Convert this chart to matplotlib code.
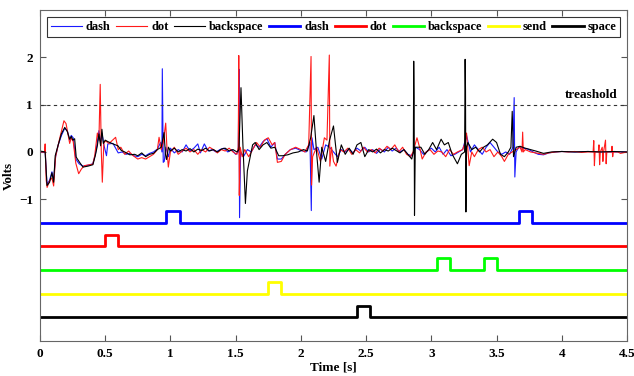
import numpy as np
import matplotlib
matplotlib.use('Agg')
import matplotlib.pyplot as plt

plt.rcParams['font.family'] = ['Liberation Serif', 'DejaVu Serif']
plt.rcParams['font.weight'] = 'bold'

# thin raw signals (time in s, volts)
dash_t = [0, 0.04, 0.054, 0.074, 0.092, 0.105, 0.12, 0.14, 0.165, 0.19, 0.21, 0.228, 0.24, 0.255, 0.275,
          0.3, 0.33, 0.37, 0.405, 0.425, 0.44, 0.452, 0.465, 0.475, 0.49, 0.51, 0.52, 0.56, 0.6, 0.63,
          0.66, 0.69, 0.72, 0.75, 0.78, 0.81, 0.84, 0.87, 0.9, 0.925, 0.935, 0.938, 0.945, 0.953, 0.965,
          0.985, 1.0, 1.03, 1.06, 1.09, 1.12, 1.15, 1.18, 1.21, 1.23, 1.26, 1.29, 1.32, 1.35, 1.38, 1.41,
          1.44, 1.47, 1.5, 1.52, 1.526, 1.53, 1.538, 1.56, 1.59, 1.62, 1.65, 1.68, 1.71, 1.74, 1.77, 1.8,
          1.82, 1.85, 1.88, 1.92, 1.96, 2.0, 2.04, 2.07, 2.08, 2.085, 2.1, 2.13, 2.16, 2.19, 2.22, 2.25,
          2.28, 2.31, 2.34, 2.37, 2.4, 2.43, 2.46, 2.49, 2.52, 2.55, 2.58, 2.61, 2.64, 2.67, 2.7, 2.73,
          2.76, 2.79, 2.82, 2.85, 2.88, 2.91, 2.94, 2.97, 3.0, 3.03, 3.06, 3.09, 3.12, 3.15, 3.18, 3.21,
          3.24, 3.27, 3.3, 3.33, 3.36, 3.39, 3.42, 3.45, 3.48, 3.51, 3.54, 3.57, 3.6, 3.625, 3.635, 3.64,
          3.65, 3.67, 3.7, 3.74, 3.78, 3.82, 3.86, 3.9, 3.95, 4.0, 4.1, 4.2, 4.3, 4.4, 4.5]
dash_v = [0.0, 0.0, -0.68, -0.6, -0.42, -0.6, -0.1, 0.15, 0.35, 0.5, 0.45, 0.25, 0.35, 0.3, -0.15,
          -0.25, -0.3, -0.28, -0.25, -0.05, 0.2, 0.45, 0.2, 0.4, 0.15, -0.08, 0.17, 0.18, -0.02, 0.0,
          -0.05, -0.03, -0.08, -0.1, -0.05, -0.08, -0.03, 0.0, 0.06, 0.2, 0.0, 1.76, -0.22, -0.2, 0.1,
          -0.1, 0.08, -0.02, 0.05, 0.0, 0.15, 0.02, 0.08, 0.17, -0.02, 0.17, 0.02, 0.05, 0.0, 0.05, 0.08,
          0.0, 0.05, -0.05, 0.0, 1.75, -1.39, 0.0, -0.1, 0.05, 0.0, 0.15, 0.1, 0.22, 0.28, 0.1, 0.2,
          -0.15, -0.15, -0.05, 0.05, 0.08, 0.03, 0.0, 0.2, -1.24, 0.3, 0.05, 0.1, -0.15, 0.15, 0.1, 0.0,
          -0.1, 0.05, 0.0, 0.06, -0.02, 0.08, 0.02, 0.1, 0.0, 0.05, -0.03, 0.06, 0.0, 0.1, 0.02, 0.08,
          0.0, 0.05, -0.05, -0.08, 0.1, 0.05, -0.05, 0.02, 0.08, 0.0, 0.1, -0.05, 0.05, -0.08, -0.05, 0.0,
          0.05, 0.35, 0.0, 0.15, 0.05, -0.05, 0.1, 0.2, 0.1, 0.0, -0.05, 0.0, -0.05, 0.1, 1.15, -0.53,
          0.0, 0.1, 0.08, 0.06, 0.0, -0.05, -0.06, -0.02, 0.0, 0.01, 0.0, 0.01, 0.0, 0.0, 0.0]

dot_t = [0, 0.035, 0.04, 0.048, 0.055, 0.075, 0.092, 0.105, 0.12, 0.15, 0.184, 0.2, 0.228, 0.24, 0.255,
         0.275, 0.297, 0.318, 0.34, 0.38, 0.405, 0.42, 0.44, 0.452, 0.462, 0.47, 0.478, 0.49, 0.505, 0.53,
         0.58, 0.6, 0.62, 0.65, 0.68, 0.71, 0.75, 0.78, 0.81, 0.84, 0.87, 0.9, 0.913, 0.93, 0.945, 0.964,
         0.975, 0.984, 1.0, 1.03, 1.06, 1.09, 1.12, 1.15, 1.18, 1.21, 1.24, 1.27, 1.3, 1.33, 1.36, 1.39,
         1.42, 1.45, 1.48, 1.51, 1.52, 1.524, 1.528, 1.535, 1.55, 1.57, 1.6, 1.63, 1.66, 1.69, 1.72, 1.75,
         1.78, 1.8, 1.82, 1.85, 1.88, 1.92, 1.96, 2.0, 2.03, 2.06, 2.078, 2.082, 2.09, 2.12, 2.15, 2.18,
         2.2, 2.218, 2.222, 2.235, 2.25, 2.27, 2.3, 2.33, 2.36, 2.39, 2.42, 2.45, 2.48, 2.51, 2.54, 2.57,
         2.6, 2.63, 2.66, 2.69, 2.72, 2.75, 2.78, 2.81, 2.84, 2.86, 2.89, 2.91, 2.93, 2.96, 2.99, 3.02,
         3.05, 3.08, 3.11, 3.14, 3.17, 3.2, 3.24, 3.26, 3.27, 3.29, 3.31, 3.33, 3.36, 3.39, 3.42, 3.45,
         3.48, 3.51, 3.54, 3.56, 3.59, 3.62, 3.65, 3.68, 3.695, 3.7, 3.705, 3.72, 3.76, 3.8, 3.86, 3.9,
         3.95, 4.0, 4.05, 4.1, 4.15, 4.2, 4.24, 4.245, 4.25, 4.255, 4.28, 4.285, 4.29, 4.295, 4.31, 4.315,
         4.32, 4.335, 4.34, 4.345, 4.38, 4.385, 4.39, 4.395, 4.43, 4.45, 4.5]
dot_v = [0.0, 0.0, 0.17, -0.6, -0.75, -0.6, -0.55, -0.72, -0.1, 0.27, 0.66, 0.6, 0.18, 0.3, 0.22,
         -0.24, -0.46, -0.36, -0.29, -0.27, -0.26, -0.08, 0.4, 0.25, 1.43, 0.04, -0.64, 0.2, 0.23, 0.18,
         0.31, 0.05, 0.1, -0.05, 0.02, -0.07, -0.15, -0.12, -0.15, -0.1, -0.05, 0.05, 0.31, 0.05, 0.2, 0.61,
         0.0, -0.32, 0.0, 0.1, -0.05, 0.02, 0.08, 0.0, 0.05, -0.05, 0.05, 0.0, 0.1, 0.05, -0.02, 0.05,
         0.02, 0.08, 0.0, -0.05, 0.1, 2.04, -0.92, 0.1, -0.1, 0.05, -0.1, 0.05, 0.2, 0.1, 0.25, 0.3,
         0.15, 0.2, -0.22, -0.2, -0.05, 0.05, 0.1, 0.05, 0.0, 0.15, 2.02, -0.7, -0.1, 0.1, -0.2, 0.3,
         0.25, 2.05, -0.3, 0.1, -0.2, -0.3, 0.05, 0.0, 0.08, -0.05, 0.05, -0.02, 0.1, 0.0, 0.05, -0.02,
         0.08, 0.02, 0.12, 0.05, 0.15, 0.0, 0.1, -0.05, -0.1, 0.0, 0.3, 0.1, -0.15, 0.0, 0.05, -0.05,
         0.02, 0.0, -0.1, 0.05, -0.05, 0.0, 0.05, 0.2, 0.4, -0.29, 0.0, -0.1, 0.05, 0.1, 0.0, 0.05,
         -0.1, 0.0, -0.1, -0.2, -0.05, 0.0, 0.05, 0.1, 0.0, 0.42, 0.0, 0.05, 0.0, -0.02, -0.05, -0.02,
         0.0, 0.01, 0.0, 0.01, -0.01, 0.0, 0.0, 0.24, -0.29, 0.0, 0.0, 0.15, -0.27, 0.0, 0.1, -0.2,
         0.0, 0.25, -0.25, 0.0, 0.0, 0.12, -0.1, 0.0, 0.0, -0.03, 0.0]

bksp_t = [0, 0.04, 0.054, 0.074, 0.092, 0.105, 0.117, 0.138, 0.164, 0.19, 0.21, 0.228, 0.24, 0.252, 0.266,
          0.278, 0.304, 0.33, 0.368, 0.406, 0.424, 0.44, 0.452, 0.465, 0.475, 0.486, 0.5, 0.52, 0.56, 0.598,
          0.624, 0.65, 0.688, 0.726, 0.75, 0.78, 0.81, 0.84, 0.87, 0.9, 0.93, 0.951, 0.962, 0.97, 0.985,
          1.0, 1.03, 1.06, 1.09, 1.12, 1.15, 1.18, 1.21, 1.24, 1.27, 1.3, 1.33, 1.36, 1.39, 1.42, 1.45,
          1.48, 1.51, 1.525, 1.541, 1.555, 1.575, 1.59, 1.61, 1.63, 1.65, 1.68, 1.71, 1.74, 1.77, 1.8,
          1.83, 1.86, 1.9, 1.94, 1.98, 2.02, 2.05, 2.075, 2.1, 2.12, 2.14, 2.16, 2.19, 2.22, 2.25, 2.28,
          2.31, 2.34, 2.37, 2.4, 2.43, 2.46, 2.49, 2.52, 2.55, 2.58, 2.61, 2.64, 2.67, 2.7, 2.73, 2.76,
          2.79, 2.82, 2.85, 2.862, 2.865, 2.868, 2.871, 2.877, 2.92, 2.95, 2.98, 3.01, 3.04, 3.075, 3.1,
          3.13, 3.16, 3.2, 3.23, 3.255, 3.259, 3.262, 3.265, 3.27, 3.28, 3.31, 3.34, 3.37, 3.4, 3.43,
          3.47, 3.5, 3.53, 3.56, 3.59, 3.61, 3.62, 3.63, 3.65, 3.68, 3.72, 3.76, 3.8, 3.86, 3.92, 4.0,
          4.1, 4.2, 4.3, 4.4, 4.5]
bksp_v = [0.02, 0.0, -0.71, -0.64, -0.44, -0.64, -0.08, 0.13, 0.38, 0.52, 0.43, 0.27, 0.33, 0.25, 0.28,
          -0.11, -0.22, -0.32, -0.3, -0.27, -0.08, 0.13, 0.38, 0.13, 0.48, 0.18, 0.25, 0.22, 0.17, 0.13,
          0.03, 0.0, -0.06, -0.05, -0.08, -0.02, -0.1, -0.05, -0.03, 0.05, 0.1, 0.41, -0.05, -0.16, 0.1,
          0.02, 0.08, 0.0, 0.05, 0.02, 0.07, 0.0, 0.06, 0.03, 0.08, 0.02, 0.05, 0.0, 0.06, 0.08, 0.02,
          0.05, 0.0, 0.05, 1.36, 0.2, -1.09, -0.4, -0.12, 0.15, 0.2, 0.05, 0.15, 0.2, 0.08, 0.1,
          -0.08, -0.08, -0.06, -0.02, 0.0, 0.05, 0.02, 0.3, 0.77, 0.0, -0.64, 0.1, -0.2, 0.25, 0.55, -0.22,
          0.15, -0.05, 0.08, -0.05, 0.15, 0.2, -0.1, 0.05, 0.0, 0.06, -0.02, 0.05, 0.02, 0.08, 0.03, -0.02,
          0.05, -0.05, -0.15, 0.0, 1.92, 1.14, -1.34, 0.1, 0.1, -0.05, 0.05, 0.2, 0.05, 0.27, 0.15,
          0.2, -0.05, -0.25, -0.05, 0.0, 1.96, 1.3, -1.27, 0.1, 0.2, 0.05, 0.1, 0.0, 0.1, 0.15,
          0.27, 0.2, -0.05, -0.1, 0.0, 0.1, 0.86, -0.1, 0.1, 0.12, 0.08, 0.05, 0.02, -0.03, 0.0, 0.01,
          0.0, 0.01, 0.0, 0.01, 0.0]

# key press pulses (start, end) in s
dash_on = [(0.97, 1.07), (3.67, 3.77)]
dot_on = [(0.50, 0.60)]
bksp_on = [(3.04, 3.14), (3.40, 3.50)]
send_on = [(1.75, 1.85)]
space_on = [(2.43, 2.53)]
levels = [-1.5, -2.0, -2.5, -3.0, -3.5]
pulse_h = 0.25
threshold = 1.0


def pulse_trace(on, base):
    t, v = [0.0], [base]
    for a, b in on:
        t += [a, a, b, b]
        v += [base, base + pulse_h, base + pulse_h, base]
    t.append(4.5)
    v.append(base)
    return t, v


fig = plt.figure(figsize=(6.34, 3.76), dpi=100)
ax = fig.add_axes([0.063, 0.093, 0.926, 0.880])

ax.plot(dash_t, dash_v, color='#1a1aff', lw=0.8, label='dash')
ax.plot(dot_t, dot_v, color='#ff1a1a', lw=0.8, label='dot')
ax.plot(bksp_t, bksp_v, color='black', lw=0.8, label='backspace')

colors = ['#0000ff', '#ff0000', '#00ff00', '#ffff00', 'black']
names = ['dash', 'dot', 'backspace', 'send', 'space']
for on, base, c, n in zip([dash_on, dot_on, bksp_on, send_on, space_on], levels, colors, names):
    t, v = pulse_trace(on, base)
    ax.plot(t, v, color=c, lw=2, label=n)

ax.axhline(threshold, color='#333333', lw=0.8, ls=(0, (3, 3)))
ax.text(4.43, threshold + 0.07, 'treashold', ha='right', va='bottom', fontsize=9.5, fontweight='bold')

ax.set_xlim(0, 4.5)
ax.set_ylim(-4, 3)
ax.set_xticks(np.arange(0, 4.51, 0.5))
ax.set_xticklabels(['0', '0.5', '1', '1.5', '2', '2.5', '3', '3.5', '4', '4.5'])
ax.set_yticks([-1, 0, 1, 2])
ax.tick_params(direction='in', top=True, right=True, labelsize=9.5, length=4, color='#555555', pad=5)
for s in ax.spines.values():
    s.set_color('#666666')
ax.set_xlabel('Time [s]', fontsize=9.5, fontweight='bold', labelpad=1)
ax.set_ylabel('Volts', fontsize=9.5, fontweight='bold')
ax.yaxis.set_label_coords(-0.042, 0.5)

leg = ax.legend(loc='upper center', ncol=8, fontsize=9, frameon=True, fancybox=False,
                edgecolor='black', handlelength=2.5, columnspacing=0.45, handletextpad=0.3,
                borderpad=0.3, borderaxespad=0.3, bbox_to_anchor=(0.5, 0.99))
leg.get_frame().set_linewidth(0.8)

fig.savefig('out.png', dpi=100)
